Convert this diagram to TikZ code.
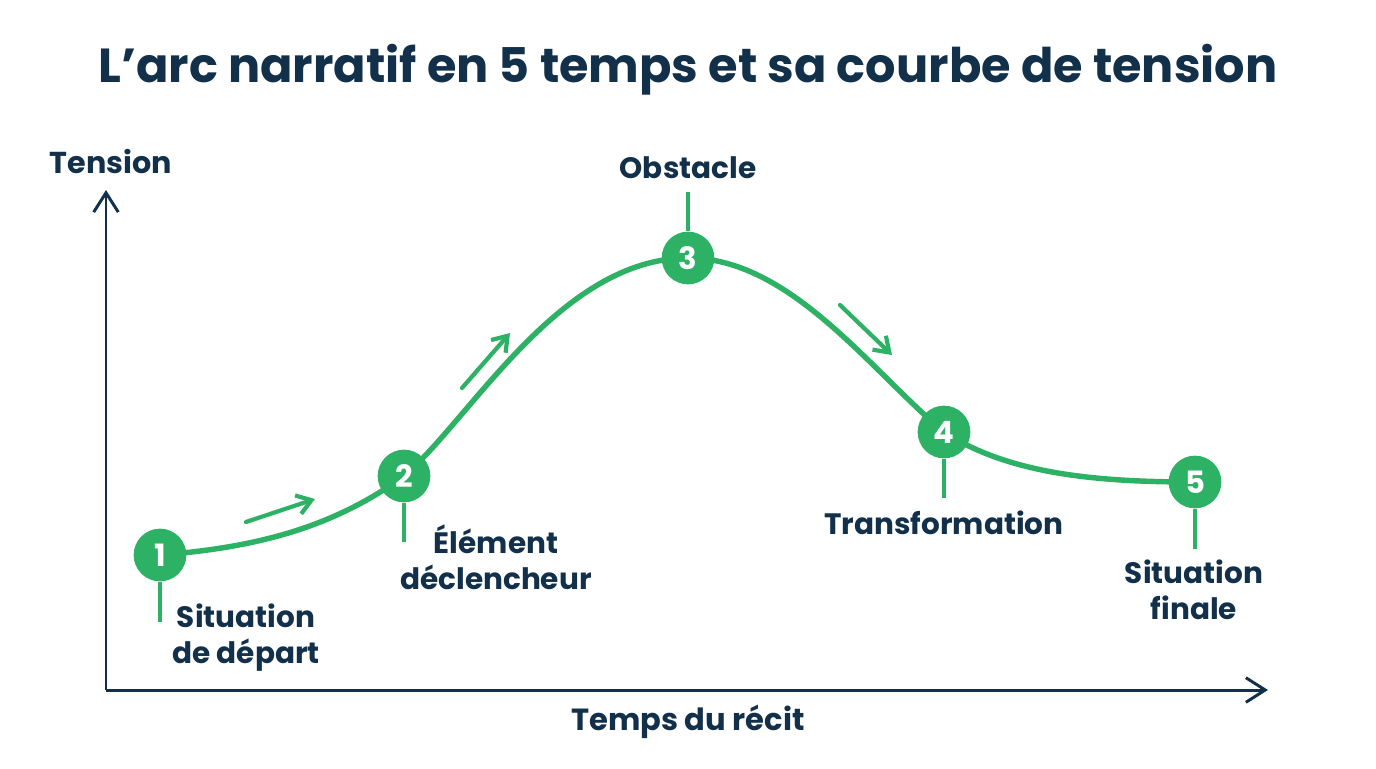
\documentclass[tikz,border=0pt]{standalone}
\usepackage{fontspec}
\setmainfont{Poppins}
\usetikzlibrary{arrows.meta}
\definecolor{navy}{HTML}{12304A}
\definecolor{arcgreen}{HTML}{2DB265}
\begin{document}
\begin{tikzpicture}[x=0.02cm,y=-0.02cm,
  axis/.style={draw=navy,line width=1.7pt,-{Straight Barb[length=11pt,width=14pt,line width=1.7pt]}},
  hint/.style={draw=arcgreen,line width=2.4pt,line cap=round,-{Straight Barb[length=8pt,width=11pt,line width=2.4pt]}},
  stage/.style={circle,fill=arcgreen,minimum size=30pt,inner sep=0pt,text=white,font=\bfseries\fontsize{17.5}{17.5}\selectfont},
  stem/.style={draw=arcgreen,line width=2pt},
  lab/.style={text=navy,align=center,font=\bfseries\fontsize{16.8}{20.5}\selectfont}]
\useasboundingbox (0,0) rectangle (1376,768);
% title
\node (title) [text=navy,font=\bfseries\fontsize{27.2}{30}\selectfont] at (688,70) {L’arc narratif en 5 temps et sa courbe de tension};
% axes
\coordinate (origin) at (106,690);
\coordinate (ytop) at (106,190);
\coordinate (xend) at (1268,690);
\draw [axis] (origin) -- (ytop);
\draw [axis] (origin) -- (xend);
\node (ylab) [lab,font=\bfseries\fontsize{17.2}{20}\selectfont] at (111,162) {Tension};
\node (xlab) [lab,font=\bfseries\fontsize{17.4}{20}\selectfont] at (688,722) {Temps du récit};
% tension curve
\draw [arcgreen,line width=3.1pt] (160,555) .. controls (250,548) and (330,530) .. (404,476)
  .. controls (470,420) and (560,258) .. (688,258)
  .. controls (790,258) and (870,370) .. (944,432)
  .. controls (1010,475) and (1100,482) .. (1195,482);
% direction hints
\coordinate (h1a) at (246,522); \coordinate (h1b) at (315,499);
\coordinate (h2a) at (462,388); \coordinate (h2b) at (510,333);
\coordinate (h3a) at (840,305); \coordinate (h3b) at (892,355);
\draw [hint] (h1a) -- (h1b);
\draw [hint] (h2a) -- (h2b);
\draw [hint] (h3a) -- (h3b);
% stems
\coordinate (s1) at (160,622);
\coordinate (s2) at (404,542);
\coordinate (s3) at (688,192);
\coordinate (s4) at (944,498);
\coordinate (s5) at (1195,549);
\node (n1) [stage] at (160,555) {1};
\node (n2) [stage] at (404,476) {2};
\node (n3) [stage] at (688,258) {3};
\node (n4) [stage] at (944,432) {4};
\node (n5) [stage] at (1195,482) {5};
\draw [stem] (n1) -- (s1);
\draw [stem] (n2) -- (s2);
\draw [stem] (n3) -- (s3);
\draw [stem] (n4) -- (s4);
\draw [stem] (n5) -- (s5);
% labels
\node (l1) [lab] at (246,638) {Situation\\de départ};
\node (l2) [lab] at (496,557) {Élément\\déclencheur};
\node (l3) [lab] at (688,168) {Obstacle};
\node (l4) [lab] at (944,523) {Transformation};
\node (l5) [lab] at (1194,590) {Situation\\finale};
\end{tikzpicture}
\end{document}
